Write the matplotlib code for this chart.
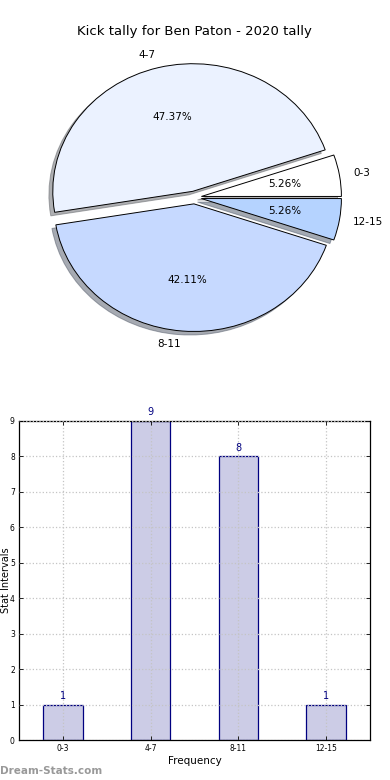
import matplotlib
matplotlib.use("Agg")
import matplotlib.pyplot as plt

categories = ["0-3", "4-7", "8-11", "12-15"]
counts = [1, 9, 8, 1]
pie_colors = ["#FFFFFF", "#EBF2FF", "#C6D9FF", "#B5D3FF"]
explode = [0.05, 0.05, 0.05, 0.05]
title = "Kick tally for Ben Paton - 2020 tally"
yticks = list(range(0, 10))

fig = plt.figure(figsize=(3.9, 7.8), dpi=100)

# Pie chart
W, H = 390, 780
axp = fig.add_axes([19.5 / W, 1 - 357 / H, 350 / W, 319 / H])
wedges, texts, autotexts = axp.pie(
    counts, labels=categories, colors=pie_colors, explode=explode,
    autopct="%.2f%%", startangle=0,
    shadow={"ox": -0.02, "oy": -0.02, "shade": 0.6},
    wedgeprops=dict(edgecolor="black", linewidth=0.7),
    textprops=dict(fontsize=7.5))
axp.set_aspect("auto")
axp.set_xlim(-1.25, 1.25)
axp.set_ylim(-1.25, 1.25)
axp.set_title(title, fontsize=9.5, pad=1)

# Bar chart
axb = fig.add_axes([19 / W, 1 - 740 / H, 351 / W, 319 / H])
x = list(range(len(categories)))
bars = axb.bar(x, counts, width=0.45, color="#CCCCE6", edgecolor="#000080",
               linewidth=0.9, zorder=2)
for xi, c in zip(x, counts):
    axb.text(xi, c + 0.1, str(c), ha="center", va="bottom", fontsize=7,
             color="#000080")
axb.set_xlim(-0.5, 3.5)
axb.set_ylim(0, 9)
axb.set_xticks(x)
axb.set_xticklabels(categories, fontsize=5.5)
axb.set_yticks(yticks)
axb.set_yticklabels([str(t) for t in yticks], fontsize=5.5)
axb.tick_params(direction="in", length=3, top=True, right=True, width=0.6,
                pad=3)
axb.grid(True, linestyle=":", color="#C4C4C4", linewidth=0.9, zorder=3)
axb.set_axisbelow(False)
axb.set_xlabel("Frequency", fontsize=7.5, labelpad=2)
axb.set_ylabel("Stat Intervals", fontsize=7)
axb.yaxis.set_label_coords(-0.0228, 0.5)
for s in axb.spines.values():
    s.set_linewidth(0.9)

fig.text(0.0, 1 - 771 / H, "Dream-Stats.com", fontsize=7.5, color="#999999",
         fontweight="bold", ha="left", va="center")

fig.savefig("out.png", dpi=100)
